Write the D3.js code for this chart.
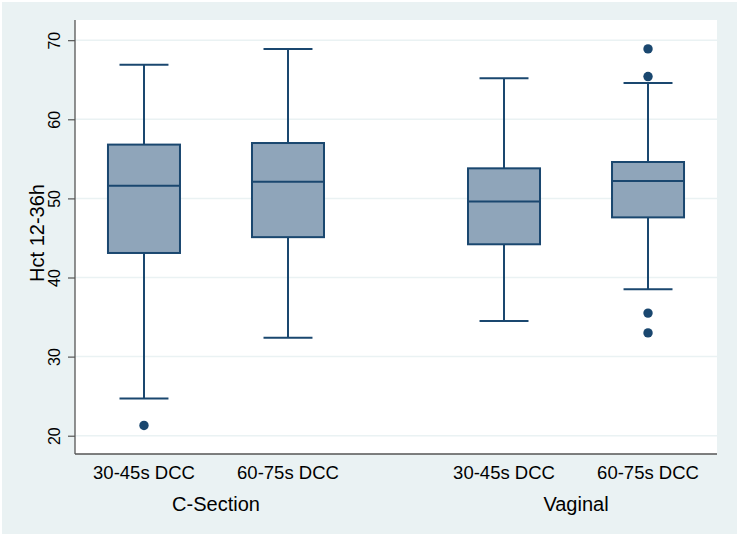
<!DOCTYPE html>
<html>
<head>
<meta charset="utf-8">
<script src="https://cdn.jsdelivr.net/npm/d3@7"></script>
<style>
  html, body { margin: 0; padding: 0; background: #ffffff; }
  svg { display: block; font-family: "Liberation Sans", Arial, sans-serif; }
</style>
</head>
<body>
<svg id="chart" width="739" height="537"></svg>
<script>
// ---- data ----
const categories = ["30-45s DCC", "60-75s DCC", "30-45s DCC", "60-75s DCC"];
const groups = ["C-Section", "Vaginal"];
const groupOf = [0, 0, 1, 1];
const positions = [0, 1, 2.5, 3.5];
const lowerWhisker = [24.7, 32.4, 34.5, 38.5];
const q1 = [43.1, 45.1, 44.2, 47.6];
const median = [51.6, 52.1, 49.6, 52.2];
const q3 = [56.8, 57.0, 53.8, 54.6];
const upperWhisker = [66.9, 68.9, 65.2, 64.6];
const outliers = [[21.3], [], [], [68.9, 65.4, 35.5, 33.0]];
const yTicks = [20, 30, 40, 50, 60, 70];
const yTitle = "Hct 12-36h";

// ---- layout ----
const W = 739, H = 537;
const plot = { left: 75, right: 717, top: 20, bottom: 454 };
const navy = "#1a476f";
const boxFill = "#8fa5ba";

const svg = d3.select("#chart");

svg.append("rect").attr("x", 2).attr("y", 2).attr("width", W - 4).attr("height", H - 5)
  .attr("fill", "#eaf2f3");
svg.append("rect").attr("x", plot.left).attr("y", plot.top)
  .attr("width", plot.right - plot.left).attr("height", plot.bottom - plot.top)
  .attr("fill", "#ffffff");

const x = d3.scaleLinear().domain([-0.479, 3.979]).range([plot.left, plot.right]);
const y = d3.scaleLinear().domain([17.69, 72.55]).range([plot.bottom, plot.top]);
const bw = 0.5, cw = 0.34;

// gridlines
svg.append("g").selectAll("line").data(yTicks).join("line")
  .attr("x1", plot.left).attr("x2", plot.right)
  .attr("y1", d => y(d)).attr("y2", d => y(d))
  .attr("stroke", "#eaf2f3").attr("stroke-width", 1.5);

// y axis (ticks via d3 axis, labels rotated)
const yAxis = svg.append("g").attr("transform", `translate(${plot.left},0)`)
  .call(d3.axisLeft(y).tickValues(yTicks).tickSize(7).tickSizeOuter(0).tickFormat(d3.format("d")));
yAxis.select(".domain").remove();
yAxis.selectAll(".tick line").attr("stroke", "#555").attr("stroke-width", 1.2);
yAxis.selectAll(".tick text").remove();
yAxis.selectAll(".tick").append("text")
  .attr("transform", "translate(-15.5,0) rotate(-90)")
  .attr("text-anchor", "middle")
  .attr("font-size", 16)
  .attr("font-family", "Liberation Sans, Arial, sans-serif")
  .attr("fill", "#000")
  .text(d => d3.format("d")(d));

// axis lines
svg.append("line").attr("x1", plot.left).attr("x2", plot.left)
  .attr("y1", plot.top).attr("y2", plot.bottom).attr("stroke", "#555").attr("stroke-width", 1.3);
svg.append("line").attr("x1", plot.left).attr("x2", plot.right)
  .attr("y1", plot.bottom).attr("y2", plot.bottom).attr("stroke", "#555").attr("stroke-width", 1.3);

// y title
svg.append("text")
  .attr("transform", `translate(44,233) rotate(-90)`)
  .attr("text-anchor", "middle").attr("font-size", 20).attr("fill", "#000")
  .text(yTitle);

// boxes
const g = svg.append("g");
categories.forEach((c, i) => {
  const cx = x(positions[i]);
  const half = (x(bw) - x(0)) / 2;
  const ch = (x(cw) - x(0)) / 2;
  g.append("line").attr("x1", cx).attr("x2", cx)
    .attr("y1", y(q3[i])).attr("y2", y(upperWhisker[i]))
    .attr("stroke", navy).attr("stroke-width", 2);
  g.append("line").attr("x1", cx).attr("x2", cx)
    .attr("y1", y(q1[i])).attr("y2", y(lowerWhisker[i]))
    .attr("stroke", navy).attr("stroke-width", 2);
  g.append("line").attr("x1", cx - ch).attr("x2", cx + ch)
    .attr("y1", y(upperWhisker[i])).attr("y2", y(upperWhisker[i]))
    .attr("stroke", navy).attr("stroke-width", 2);
  g.append("line").attr("x1", cx - ch).attr("x2", cx + ch)
    .attr("y1", y(lowerWhisker[i])).attr("y2", y(lowerWhisker[i]))
    .attr("stroke", navy).attr("stroke-width", 2);
  g.append("rect").attr("x", cx - half).attr("width", 2 * half)
    .attr("y", y(q3[i])).attr("height", y(q1[i]) - y(q3[i]))
    .attr("fill", boxFill).attr("stroke", navy).attr("stroke-width", 2);
  g.append("line").attr("x1", cx - half).attr("x2", cx + half)
    .attr("y1", y(median[i])).attr("y2", y(median[i]))
    .attr("stroke", navy).attr("stroke-width", 2);
  g.selectAll(null).data(outliers[i]).join("circle")
    .attr("cx", cx).attr("cy", d => y(d)).attr("r", 4.7).attr("fill", navy);
  svg.append("text").attr("x", cx).attr("y", 479)
    .attr("text-anchor", "middle").attr("font-size", 18.5).attr("fill", "#000")
    .text(c);
});

// group labels
groups.forEach((gname, gi) => {
  const idx = positions.filter((p, i) => groupOf[i] === gi);
  const cx = x(d3.mean(idx));
  svg.append("text").attr("x", cx).attr("y", 510.5)
    .attr("text-anchor", "middle").attr("font-size", 20).attr("fill", "#000")
    .text(gname);
});
</script>
</body>
</html>
